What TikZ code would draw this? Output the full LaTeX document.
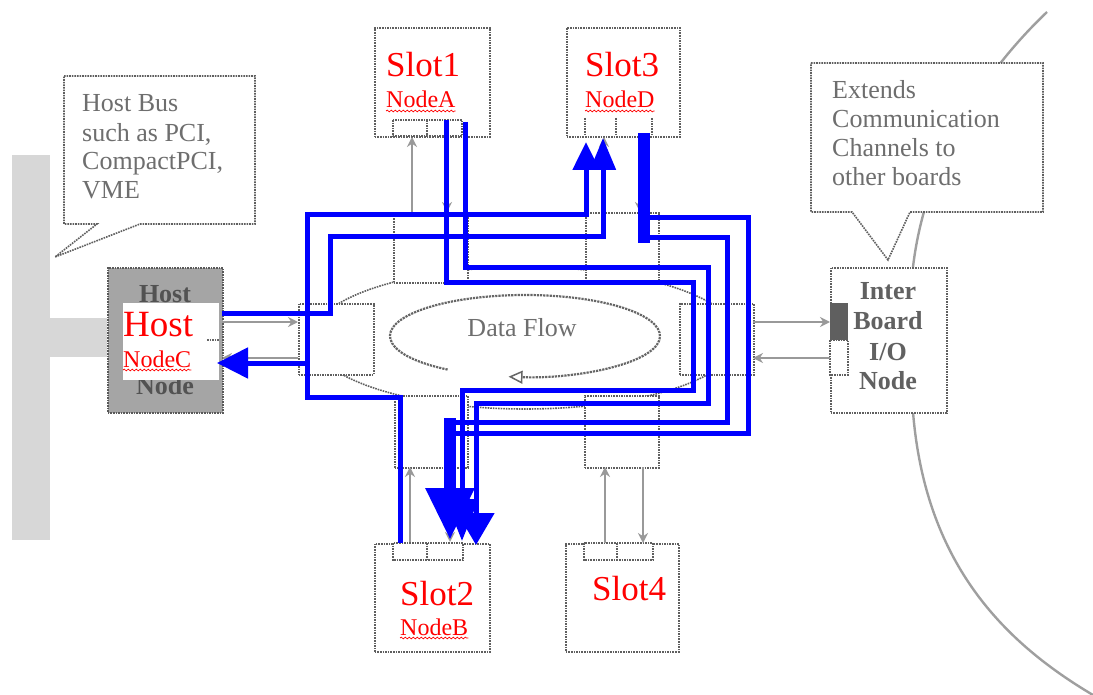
\documentclass[tikz,border=0pt]{standalone}
\usepackage{fontspec}
\setmainfont{Liberation Serif}
\usetikzlibrary{arrows.meta,decorations.pathmorphing}
\definecolor{pureblue}{RGB}{0,0,255}
\definecolor{boxgray}{RGB}{95,95,95}
\definecolor{txtgray}{RGB}{110,110,110}
\definecolor{busgray}{RGB}{215,215,215}
\definecolor{hostgray}{RGB}{165,165,165}
\definecolor{darkport}{RGB}{95,95,95}
\begin{document}
\begin{tikzpicture}[x=1pt,y=-1pt,
  box/.style={draw=boxgray, line width=1.6pt, densely dotted, fill=white},
  nodebox/.style={box, inner sep=0pt, anchor=north west},
  curveline/.style={draw=gray!75, line width=2.4pt},
  flow/.style={draw=pureblue, line width=5pt, line join=miter},
  thickflow/.style={draw=pureblue, line width=12pt, line join=miter},
  garrow/.style={draw=gray!80, line width=2.2pt, -{Stealth[length=10pt,width=10pt]}},
  redbig/.style={text=red, inner sep=0pt, font=\fontsize{35}{35}\selectfont},
  redhost/.style={text=red, inner sep=0pt, font=\fontsize{37}{37}\selectfont},
  redsmall/.style={text=red, inner sep=0pt, font=\fontsize{24}{24}\selectfont},
  greytext/.style={text=txtgray, inner sep=0pt, font=\fontsize{26}{29}\selectfont},
  boldgrey/.style={text=black!62, inner sep=0pt, font=\bfseries\fontsize{26}{29}\selectfont},
  wavy/.style={draw=red, line width=0.7pt, decorate, decoration={snake, amplitude=0.9pt, segment length=4pt}}
]
\useasboundingbox (0,0) rectangle (1093,695);

% host bus
\fill[busgray] (12,155) rectangle (50,540);
\fill[busgray] (50,318) rectangle (107,357);

% other boards curve
\draw[curveline] (1047,12) .. controls (960,95) and (922,190) .. (913,267);
\draw[curveline] (913,412) .. controls (925,560) and (1000,640) .. (1093,695);

% callouts
\draw[box] (64,76) -- (255,76) -- (255,224) -- (140,224) -- (55,257) -- (97,224) -- (64,224) -- cycle;
\node[greytext, anchor=base west] (hb1) at (82,112) {Host Bus};
\node[greytext, anchor=base west] (hb2) at (82,142) {such as PCI,};
\node[greytext, anchor=base west] (hb3) at (82,170) {CompactPCI,};
\node[greytext, anchor=base west] (hb4) at (82,199) {VME};

\draw[box] (811,63) -- (1043,63) -- (1043,212) -- (910,212) -- (888,260) -- (852,212) -- (811,212) -- cycle;
\node[greytext, anchor=base west] (ex1) at (832,99) {Extends};
\node[greytext, anchor=base west] (ex2) at (832,128) {Communication};
\node[greytext, anchor=base west] (ex3) at (832,157) {Channels to};
\node[greytext, anchor=base west] (ex4) at (832,186) {other boards};

% central switch fabric
\draw[box, fill=none] (525,338) ellipse [x radius=213, y radius=71];
\node[nodebox, minimum width=74pt, minimum height=70pt] (ctl) at (393,212) {};
\node[nodebox, minimum width=73pt, minimum height=68pt] (ctr) at (585,212) {};
\node[nodebox, minimum width=75pt, minimum height=71pt] (cl) at (298,303) {};
\node[nodebox, minimum width=74pt, minimum height=71pt] (cr) at (679,303) {};
\node[nodebox, minimum width=73pt, minimum height=72pt] (cbl) at (394,395) {};
\node[nodebox, minimum width=74pt, minimum height=72pt] (cbr) at (584,395) {};

% data flow loop
\draw[draw=black!60, line width=2.2pt, densely dotted, -{Triangle[open, length=14pt, width=13pt, line width=1.5pt]}]
  (525,336) ++(125:135 and 41) arc[start angle=125, end angle=457, x radius=135, y radius=41];
\node[greytext, anchor=base] (df) at (522,337) {Data Flow};

% slots
\node[nodebox, minimum width=115pt, minimum height=109pt] (slot1) at (374,27) {};
\draw[box] (393,120) rectangle (462,136);
\draw[box] (427,120) -- (427,136);
\node[nodebox, minimum width=113pt, minimum height=109pt] (slot3) at (566,27) {};
\draw[box] (585,118) -- (585,136) (616,118) -- (616,136) (652,118) -- (652,136);
\node[nodebox, minimum width=115pt, minimum height=108pt] (slot2) at (374,543) {};
\draw[box] (393,543) rectangle (463,560);
\draw[box] (427,543) -- (427,560);
\node[nodebox, minimum width=113pt, minimum height=108pt] (slot4) at (565,543) {};
\draw[box] (584,543) rectangle (653,560);
\draw[box] (617,543) -- (617,560);

\node[redbig, anchor=base west] (s1t) at (386,77) {Slot1};
\node[redsmall, anchor=base west] (s1n) at (386,108) {NodeA};
\node[redbig, anchor=base west] (s3t) at (585,77) {Slot3};
\node[redsmall, anchor=base west] (s3n) at (585,108) {NodeD};
\node[redbig, anchor=base west] (s2t) at (400,605) {Slot2};
\node[redsmall, anchor=base west] (s2n) at (400,635) {NodeB};
\node[redbig, anchor=base west] (s4t) at (592,600) {Slot4};

% host node
\node[draw=black!65, densely dotted, line width=1.6pt, fill=hostgray, minimum width=115pt, minimum height=145pt, anchor=north west, inner sep=0pt] (host) at (107,267) {};
\node[boldgrey, text=black!68, anchor=base] (hostT) at (165,302) {Host};
\node[boldgrey, text=black!68, anchor=base] (hostB) at (165,394) {Node};
\fill[white] (123,303) rectangle (219,380);
\draw[draw=black!60, line width=1.6pt, densely dotted] (207,340) -- (219,340);
\node[redhost, anchor=base west] (hostR) at (123,337) {Host};
\node[redsmall, anchor=base west] (hostN) at (123,367) {NodeC};

% inter board node
\node[nodebox, minimum width=116pt, minimum height=145pt] (ib) at (830,267) {};
\fill[darkport] (830,303) rectangle (848,340);
\draw[box] (830,340) rectangle (848,375);
\node[boldgrey, anchor=base] (ib1) at (888,300) {Inter};
\node[boldgrey, anchor=base] (ib2) at (888,330) {Board};
\node[boldgrey, anchor=base] (ib3) at (888,360) {I/O};
\node[boldgrey, anchor=base] (ib4) at (888,389) {Node};

% wavy underlines
\foreach \n in {s1n,s3n,s2n,hostN}{
  \draw[wavy] ([yshift=-3pt]\n.base west) -- ([yshift=-3pt]\n.base east);
}

% grey arrows
\draw[garrow] (412,212) -- (412,137);
\draw[garrow] (447,137) -- (447,212);
\draw[garrow] (604,212) -- (604,137);
\draw[garrow] (640,137) -- (640,212);
\draw[garrow] (410,542) -- (410,467);
\draw[garrow] (450,467) -- (450,542);
\draw[garrow] (605,543) -- (605,467);
\draw[garrow] (643,467) -- (643,543);
\draw[garrow] (222,322) -- (298,322);
\draw[garrow] (298,358) -- (222,358);
\draw[garrow] (753,322) -- (830,322);
\draw[garrow] (830,358) -- (753,358);

% blue data paths
\coordinate (pB1) at (400,543);
\coordinate (pD1) at (586,142);
\coordinate (pD2) at (603,138);
\coordinate (pC1) at (222,313);
\coordinate (pC2) at (217,363);
\coordinate (pA1) at (446,120);
\coordinate (pA2) at (465,122);
\coordinate (pB2) at (462,541);
\coordinate (pB3) at (476,545);
\coordinate (pB4) at (450,540);
\coordinate (pD3) at (644,133);

\draw[flow, -{Triangle[length=28pt,width=26pt]}] (pB1) -- (400,397) -- (307,397) -- (307,215) -- (586,215) -- (pD1);
\draw[flow, -{Triangle[length=31pt,width=30pt]}] (307,363) -- (pC2);
\draw[flow, -{Triangle[length=32pt,width=25pt]}] (pC1) -- (330,313) -- (330,237) -- (603,237) -- (pD2);
\draw[flow, -{Triangle[length=42pt,width=32pt]}] (pA1) -- (446,283) -- (693,283) -- (693,390) -- (462,390) -- (pB2);
\draw[flow, -{Triangle[length=32pt,width=36pt]}] (pA2) -- (465,268) -- (708,268) -- (708,403) -- (476,403) -- (pB3);
\draw[thickflow] (pD3) -- (644,243);
\draw[flow] (649,238) -- (727,238) -- (727,422) -- (449,422);
\draw[flow] (649,218) -- (748,218) -- (748,433) -- (455,433);
\draw[thickflow, -{Triangle[length=52pt,width=46pt]}] (450,418) -- (pB4);
\end{tikzpicture}
\end{document}
